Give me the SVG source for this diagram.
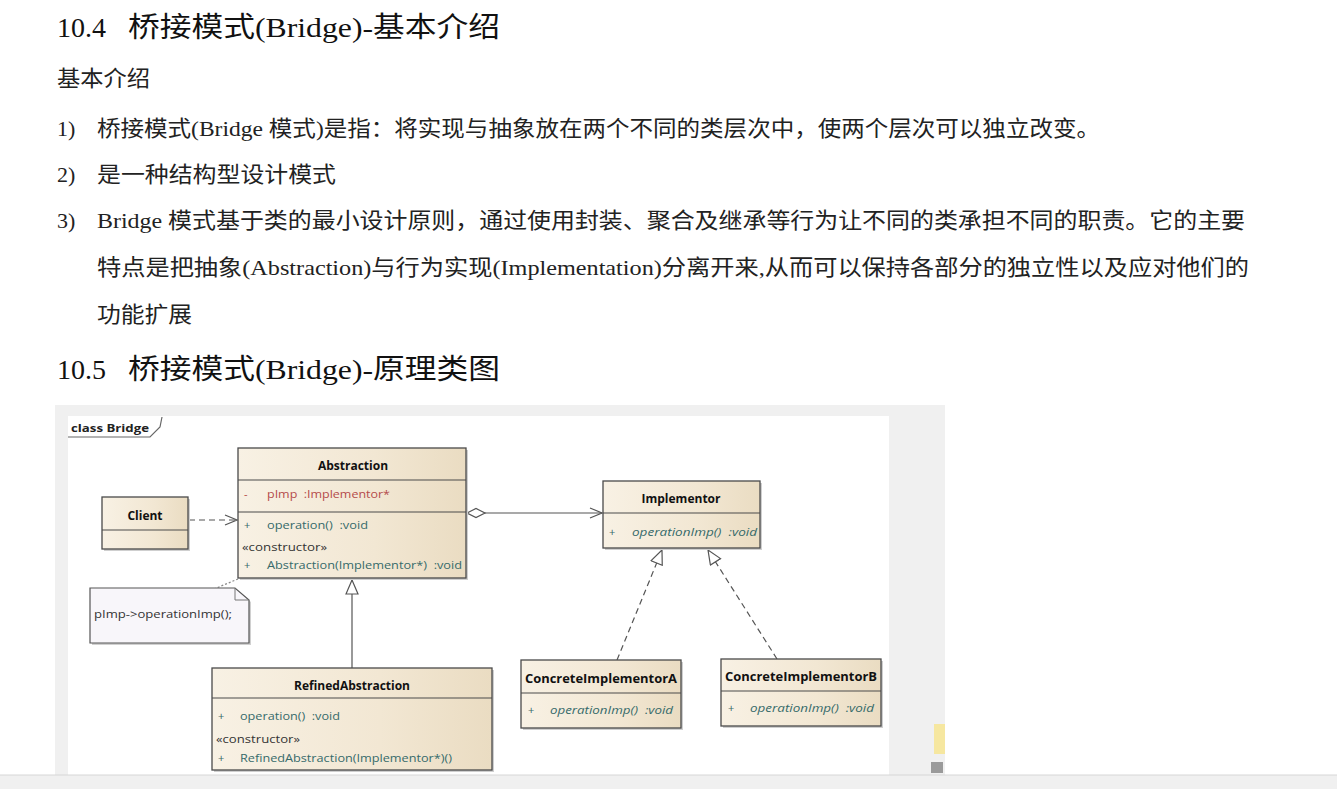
<svg xmlns="http://www.w3.org/2000/svg" width="1337" height="789" viewBox="0 0 1337 789">
<defs>
<linearGradient id="beige" x1="0" y1="0" x2="1" y2="0">
<stop offset="0" stop-color="#f8f1e4"/>
<stop offset="0.6" stop-color="#f2e7d3"/>
<stop offset="1" stop-color="#eadcc2"/>
</linearGradient>
<marker id="openArrow" markerUnits="userSpaceOnUse" markerWidth="14" markerHeight="12" viewBox="0 0 14 12" refX="13" refY="6" orient="auto">
<path d="M1,1 L13,6 L1,11" fill="none" stroke="#555" stroke-width="1.2"/>
</marker>
<marker id="hollowTri" markerUnits="userSpaceOnUse" markerWidth="16" markerHeight="14" viewBox="0 0 16 14" refX="15" refY="7" orient="auto">
<path d="M1,1 L15,7 L1,13 Z" fill="#fff" stroke="#555" stroke-width="1.2"/>
</marker>
<marker id="diamond" markerUnits="userSpaceOnUse" markerWidth="22" markerHeight="12" viewBox="0 0 22 12" refX="1" refY="6" orient="auto">
<path d="M1,6 L10,1.5 L19,6 L10,10.5 Z" fill="#fff" stroke="#555" stroke-width="1.2"/>
</marker>
</defs>
<style>
.head{font-family:"Liberation Serif","Noto Sans CJK SC",serif;font-size:28px;fill:#111}
.body{font-family:"Liberation Serif","Noto Sans CJK SC",serif;font-size:22px;fill:#222}
.box{fill:url(#beige);stroke:#4a4a4a;stroke-width:1.3}
.shadow{fill:#cfcfcf}
.div{stroke:#4a4a4a;stroke-width:1.2}
.title{font-family:"Open Sans","Noto Sans",sans-serif;font-weight:bold;font-size:12px;fill:#111}
.mem{font-family:"Open Sans","Noto Sans",sans-serif;font-size:11px;fill:#356a6a;white-space:pre}
.memi{font-family:"Open Sans","Noto Sans",sans-serif;font-size:11px;font-style:italic;fill:#356a6a;white-space:pre}
.attr{font-family:"Open Sans","Noto Sans",sans-serif;font-size:11px;fill:#b44a4a;white-space:pre}
.ster{font-family:"Open Sans","Noto Sans",sans-serif;font-size:11px;fill:#333}
.conn{fill:none;stroke:#555;stroke-width:1.2}
.dash{stroke-dasharray:6,4}
</style>
<rect x="0" y="0" width="1337" height="789" fill="#ffffff"/>
<g id="text">
<text class="head" x="57" y="37">10.4</text>
<text class="head" x="128" y="37" textLength="372" lengthAdjust="spacingAndGlyphs">桥接模式(Bridge)-基本介绍</text>
<text class="body" x="57" y="86" textLength="93" lengthAdjust="spacingAndGlyphs">基本介绍</text>
<text class="body" x="57" y="136">1)</text>
<text class="body" x="97" y="136" textLength="1003" lengthAdjust="spacingAndGlyphs">桥接模式(Bridge 模式)是指：将实现与抽象放在两个不同的类层次中，使两个层次可以独立改变。</text>
<text class="body" x="57" y="182">2)</text>
<text class="body" x="97" y="182" textLength="239" lengthAdjust="spacingAndGlyphs">是一种结构型设计模式</text>
<text class="body" x="57" y="228">3)</text>
<text class="body" x="97" y="228" textLength="1148" lengthAdjust="spacingAndGlyphs">Bridge 模式基于类的最小设计原则，通过使用封装、聚合及继承等行为让不同的类承担不同的职责。它的主要</text>
<text class="body" x="97" y="275" textLength="1152" lengthAdjust="spacingAndGlyphs">特点是把抽象(Abstraction)与行为实现(Implementation)分离开来,从而可以保持各部分的独立性以及应对他们的</text>
<text class="body" x="97" y="322" textLength="95" lengthAdjust="spacingAndGlyphs">功能扩展</text>
<text class="head" x="57" y="379">10.5</text>
<text class="head" x="128" y="379" textLength="372" lengthAdjust="spacingAndGlyphs">桥接模式(Bridge)-原理类图</text>
</g>
<g id="frame">
<rect x="55" y="405" width="890" height="370" fill="#f0f0f0"/>
<rect x="68" y="416" width="821" height="359" fill="#ffffff"/>
<text x="71" y="432" font-family="Open Sans, Noto Sans, sans-serif" font-weight="bold" font-size="11" fill="#222" textLength="78" lengthAdjust="spacingAndGlyphs">class Bridge</text>
<path d="M68,437 L150,437 L160,427 L162,417" fill="none" stroke="#666" stroke-width="1.2"/>
<rect x="934" y="724" width="11" height="30" fill="#f6e7a0"/>
<rect x="931" y="762" width="12" height="11" fill="#9a9a9a"/>
<rect x="0" y="775" width="1337" height="14" fill="#f0f0f0"/>
<line x1="0" y1="775" x2="1337" y2="775" stroke="#d6d6d6" stroke-width="1"/>
</g>
<g id="connectors">
<line class="conn dash" x1="189" y1="520" x2="237" y2="520" marker-end="url(#openArrow)"/>
<line class="conn" x1="467" y1="513" x2="602" y2="513" marker-start="url(#diamond)" marker-end="url(#openArrow)"/>
<line class="conn" x1="352" y1="668" x2="352" y2="580" marker-end="url(#hollowTri)"/>
<line class="conn dash" x1="617" y1="660" x2="662" y2="550" marker-end="url(#hollowTri)"/>
<line class="conn dash" x1="777" y1="659" x2="708" y2="550" marker-end="url(#hollowTri)"/>
<line x1="238" y1="579" x2="214" y2="589" stroke="#888" stroke-width="1.2" stroke-dasharray="2,2"/>
</g>
<g id="Client">
<rect class="shadow" x="104" y="499" width="86" height="52"/>
<rect class="box" x="102" y="497" width="86" height="52"/>
<line class="div" x1="102" y1="530" x2="188" y2="530"/>
<text class="title" x="145" y="520" text-anchor="middle">Client</text>
</g>
<g id="Abstraction">
<rect class="shadow" x="240" y="450" width="228" height="130"/>
<rect class="box" x="238" y="448" width="228" height="130"/>
<line class="div" x1="238" y1="480" x2="466" y2="480"/>
<line class="div" x1="238" y1="512" x2="466" y2="512"/>
<text class="title" x="353" y="470" text-anchor="middle">Abstraction</text>
<text class="attr" x="244" y="498">-</text>
<text class="attr" x="267" y="498" textLength="123" lengthAdjust="spacingAndGlyphs">pImp  :Implementor*</text>
<text class="mem" x="244" y="529">+</text>
<text class="mem" x="267" y="529" textLength="101" lengthAdjust="spacingAndGlyphs">operation()  :void</text>
<text class="ster" x="242" y="551" textLength="85" lengthAdjust="spacingAndGlyphs">«constructor»</text>
<text class="mem" x="244" y="569">+</text>
<text class="mem" x="267" y="569" textLength="195" lengthAdjust="spacingAndGlyphs">Abstraction(Implementor*)  :void</text>
</g>
<g id="Note">
<path d="M92,590 L237,590 L251,602 L251,645 L92,645 Z" fill="#d0d0d0"/>
<path d="M90,588 L235,588 L249,600 L249,643 L90,643 Z" fill="#f8f6fa" stroke="#555" stroke-width="1.2"/>
<path d="M235,588 L235,600 L249,600" fill="none" stroke="#777" stroke-width="1"/>
<text x="94" y="618" font-family="Open Sans, Noto Sans, sans-serif" font-size="11" fill="#333" textLength="138" lengthAdjust="spacingAndGlyphs">pImp-&gt;operationImp();</text>
</g>
<g id="Implementor">
<rect class="shadow" x="605" y="483" width="157" height="67"/>
<rect class="box" x="603" y="481" width="157" height="67"/>
<line class="div" x1="603" y1="513" x2="760" y2="513"/>
<text class="title" x="681" y="503" text-anchor="middle">Implementor</text>
<text class="mem" x="609" y="536">+</text>
<text class="memi" x="632" y="536" textLength="125" lengthAdjust="spacingAndGlyphs">operationImp()  :void</text>
</g>
<g id="RefinedAbstraction">
<rect class="shadow" x="214" y="670" width="280" height="102"/>
<rect class="box" x="212" y="668" width="280" height="102"/>
<line class="div" x1="212" y1="698" x2="492" y2="698"/>
<text class="title" x="352" y="690" text-anchor="middle">RefinedAbstraction</text>
<text class="mem" x="218" y="720">+</text>
<text class="mem" x="240" y="720" textLength="100" lengthAdjust="spacingAndGlyphs">operation()  :void</text>
<text class="ster" x="216" y="743" textLength="84" lengthAdjust="spacingAndGlyphs">«constructor»</text>
<text class="mem" x="218" y="762">+</text>
<text class="mem" x="240" y="762" textLength="212" lengthAdjust="spacingAndGlyphs">RefinedAbstraction(Implementor*)()</text>
</g>
<g id="ConcreteImplementorA">
<rect class="shadow" x="523" y="662" width="160" height="68"/>
<rect class="box" x="521" y="660" width="160" height="68"/>
<line class="div" x1="521" y1="693" x2="681" y2="693"/>
<text class="title" x="525" y="683" textLength="152" lengthAdjust="spacingAndGlyphs">ConcreteImplementorA</text>
<text class="mem" x="528" y="714">+</text>
<text class="memi" x="550" y="714" textLength="123" lengthAdjust="spacingAndGlyphs">operationImp()  :void</text>
</g>
<g id="ConcreteImplementorB">
<rect class="shadow" x="723" y="661" width="160" height="67"/>
<rect class="box" x="721" y="659" width="160" height="67"/>
<line class="div" x1="721" y1="691" x2="881" y2="691"/>
<text class="title" x="725" y="681" textLength="152" lengthAdjust="spacingAndGlyphs">ConcreteImplementorB</text>
<text class="mem" x="728" y="712">+</text>
<text class="memi" x="750" y="712" textLength="124" lengthAdjust="spacingAndGlyphs">operationImp()  :void</text>
</g>
</svg>
